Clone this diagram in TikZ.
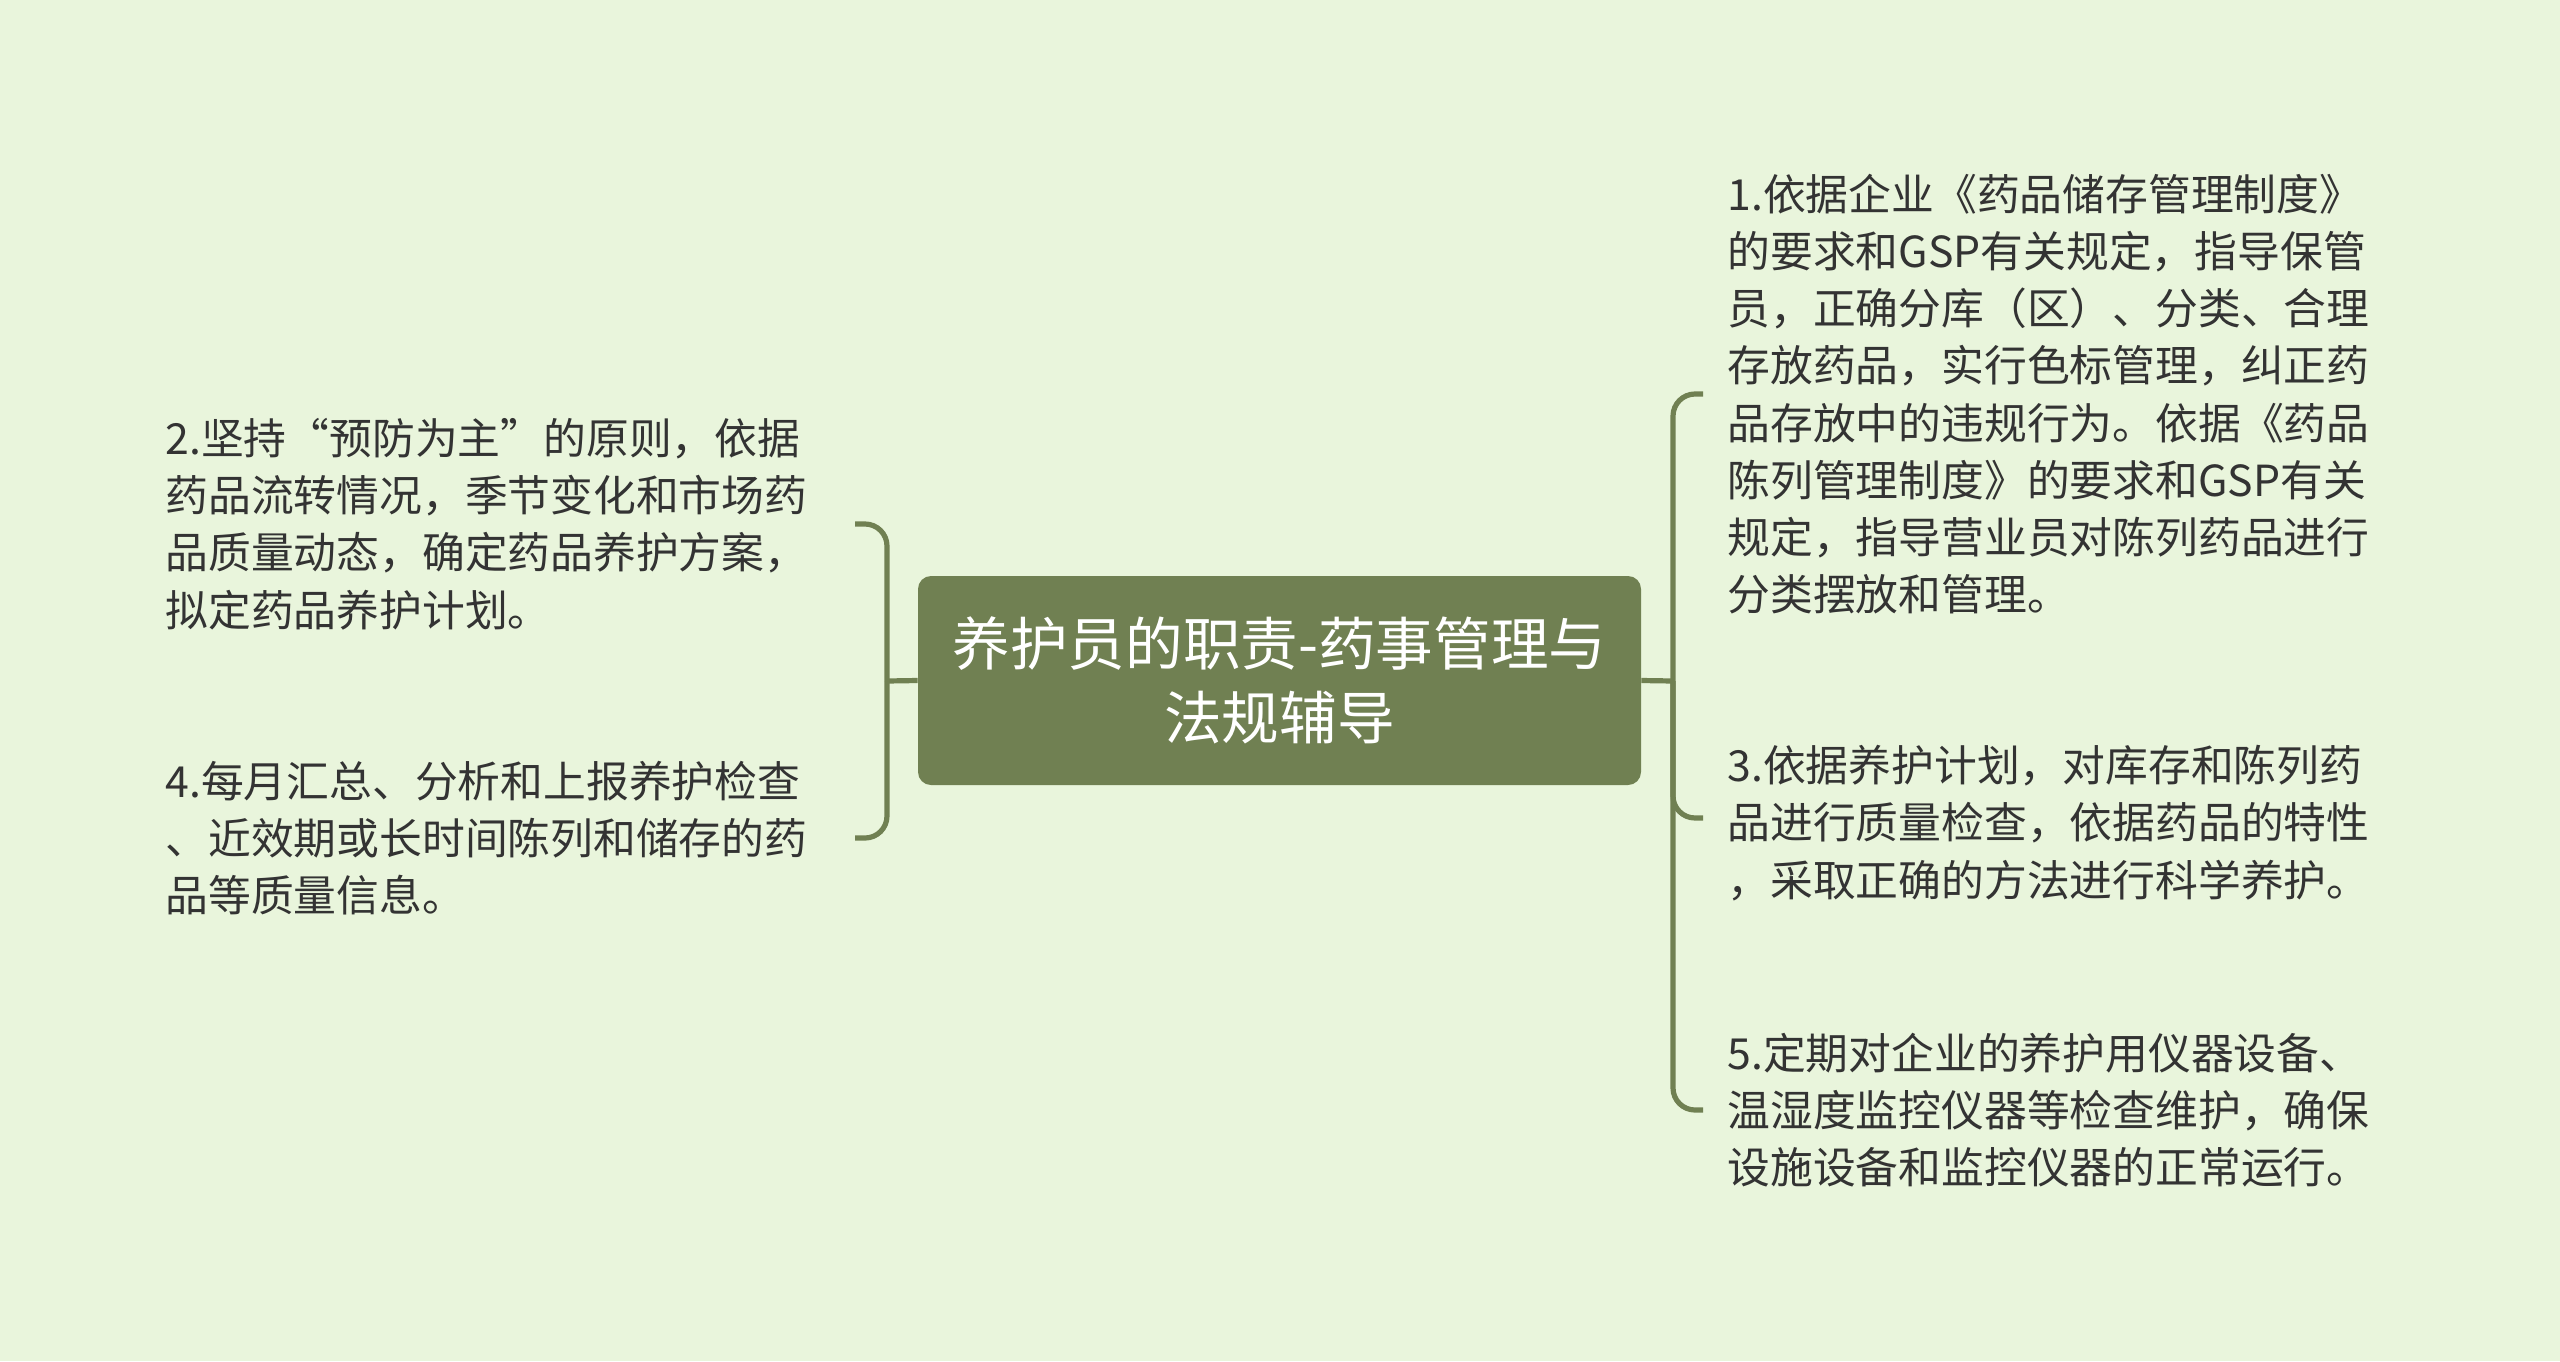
\documentclass[tikz,border=0pt]{standalone}
\usepackage{fontspec}
\setmainfont{Noto Sans CJK SC}
\definecolor{bgC}{HTML}{E9F5DC}
\definecolor{rootC}{HTML}{708052}
\definecolor{lineC}{HTML}{708052}
\definecolor{txtC}{HTML}{333333}
\begin{document}
\begin{tikzpicture}[x=0.5pt,y=-0.5pt,
  conn/.style={draw=lineC, line width=2.6pt},
  bracket/.style={conn, rounded corners=11pt},
  leaf/.style={anchor=west, align=left, inner sep=0pt, text=txtC, font=\fontsize{21.4pt}{28.6pt}\selectfont},
  root/.style={fill=rootC, rounded corners=6.5pt, text=white, align=center, minimum width=361.5pt, minimum height=104.5pt, inner sep=0pt, font=\fontsize{28.8pt}{36.7pt}\selectfont}]
\fill[bgC] (0,0) rectangle (2560,1361);
\useasboundingbox (0,0) rectangle (2560,1361);
\node[root] (c) at (1279.5,680.5) {养护员的职责-药事管理与\\法规辅导};
% left
\node[leaf] (n2) at (165,524) {2.坚持“预防为主”的原则，依据\\药品流转情况，季节变化和市场药\\品质量动态，确定药品养护方案，\\拟定药品养护计划。};
\node[leaf] (n4) at (165,838) {4.每月汇总、分析和上报养护检查\\、近效期或长时间陈列和储存的药\\品等质量信息。};
% right
\node[leaf] (n1) at (1727,394) {1.依据企业《药品储存管理制度》\\的要求和GSP有关规定，指导保管\\员，正确分库（区）、分类、合理\\存放药品，实行色标管理，纠正药\\品存放中的违规行为。依据《药品\\陈列管理制度》的要求和GSP有关\\规定，指导营业员对陈列药品进行\\分类摆放和管理。};
\node[leaf] (n3) at (1727,823) {3.依据养护计划，对库存和陈列药\\品进行质量检查，依据药品的特性\\，采取正确的方法进行科学养护。};
\node[leaf] (n5) at (1727,1110) {5.定期对企业的养护用仪器设备、\\温湿度监控仪器等检查维护，确保\\设施设备和监控仪器的正常运行。};
% connectors
\coordinate (lb) at (887,681);
\coordinate (e2) at (855,524);
\coordinate (e4) at (855,838);
\coordinate (rb) at (1673,681);
\coordinate (e1) at (1703,394);
\coordinate (e3) at (1703,818);
\coordinate (e5) at (1703,1110);
\draw[conn] (c.west) -- (lb);
\draw[bracket] (lb) |- (e2);
\draw[bracket] (lb) |- (e4);
\draw[conn] (c.east) -- (rb);
\draw[bracket] (rb) |- (e1);
\draw[bracket] (rb) |- (e3);
\draw[bracket] (rb) |- (e5);
\end{tikzpicture}
\end{document}
